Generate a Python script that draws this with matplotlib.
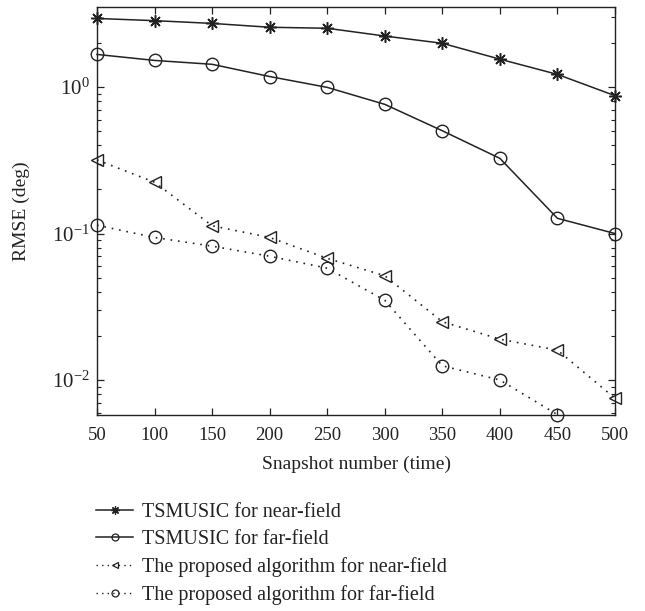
import matplotlib
matplotlib.use("Agg")
import matplotlib.pyplot as plt
from matplotlib.lines import Line2D
from matplotlib.ticker import LogLocator, NullFormatter, FixedLocator, FuncFormatter
import math

plt.rcParams['font.family'] = ['Liberation Serif', 'DejaVu Serif']
plt.rcParams['mathtext.fontset'] = 'custom'
plt.rcParams['mathtext.rm'] = 'Liberation Serif'
plt.rcParams['mathtext.it'] = 'Liberation Serif:italic'

snapshots = [50, 100, 150, 200, 250, 300, 350, 400, 450, 500]
tsmusic_near = [2.94, 2.84, 2.72, 2.56, 2.52, 2.23, 1.99, 1.55, 1.22, 0.873]
tsmusic_far = [1.67, 1.52, 1.43, 1.18, 0.995, 0.762, 0.503, 0.326, 0.127, 0.100]
proposed_near = [0.318, 0.224, 0.113, 0.094, 0.0677, 0.0515, 0.025, 0.019, 0.016, 0.0075]
proposed_far = [0.114, 0.094, 0.082, 0.070, 0.058, 0.035, 0.0125, 0.010, 0.0058, None]
labels = ["TSMUSIC for near-field", "TSMUSIC for far-field",
          "The proposed algorithm for near-field", "The proposed algorithm for far-field"]

fig = plt.figure(figsize=(6.45, 6.11), dpi=100)
ax = fig.add_axes([97/645, 1-415/611, (615-97)/645, (415-7)/611])

col = '#222222'
star = (8, 2, 0)
x_pf = [x for x, v in zip(snapshots, proposed_far) if v is not None]
y_pf = [v for v in proposed_far if v is not None]

ax.plot(snapshots, tsmusic_near, color=col, lw=1.1, marker=star, ms=9, mew=1.1, clip_on=False)
ax.plot(snapshots, tsmusic_far, color=col, lw=1.1, marker='o', ms=9, mfc='none', mew=1.0, clip_on=False)
ax.plot(snapshots, proposed_near, color=col, lw=1.2, ls=(0, (1, 3.5)), marker='<', ms=9,
        mfc='none', mew=1.0, clip_on=False)
ax.plot(x_pf, y_pf, color=col, lw=1.2, ls=(0, (1, 3.5)), marker='o', ms=9,
        mfc='none', mew=1.0, clip_on=False)

ax.set_yscale('log')
ax.set_xlim(50, 500)
ax.set_ylim(0.00577, 3.52)
ax.xaxis.set_major_locator(FixedLocator(snapshots))
ax.yaxis.set_major_locator(LogLocator(base=10, numticks=10))
ax.yaxis.set_minor_locator(LogLocator(base=10, subs=range(2, 10), numticks=10))
ax.yaxis.set_minor_formatter(NullFormatter())
ax.yaxis.set_major_formatter(FuncFormatter(
    lambda v, p: r'$10^{\mathregular{%d}}$' % round(math.log10(v))))
ax.tick_params(which='both', direction='in', top=True, right=True, colors=col,
               labelcolor='#222222')
ax.tick_params(axis='x', labelsize=13.5, pad=9)
ax.tick_params(axis='y', labelsize=15, pad=5)
ax.tick_params(which='major', length=5, width=0.9)
ax.tick_params(which='minor', length=3, width=0.8)
for s in ax.spines.values():
    s.set_color(col)
    s.set_linewidth(1.0)

ax.set_xlabel("Snapshot number (time)", fontsize=14, color='#222222', labelpad=8)
ax.set_ylabel("RMSE (deg)", fontsize=14, color='#222222', labelpad=16)

handles = [
    Line2D([], [], color=col, lw=1.1, marker=star, ms=6, mew=0.9),
    Line2D([], [], color=col, lw=1.1, marker='o', ms=5, mfc='none', mew=0.9),
    Line2D([], [], color=col, lw=1.0, ls=(0, (1, 3)), marker='<', ms=5, mfc='none', mew=0.9),
    Line2D([], [], color=col, lw=1.0, ls=(0, (1, 3)), marker='o', ms=5, mfc='none', mew=0.9),
]
fig.legend(handles, labels, loc='upper left', bbox_to_anchor=(96/645, 1-503/611),
           frameon=False, fontsize=14.5, handlelength=1.85, handletextpad=0.45,
           labelspacing=0.4, borderaxespad=0, borderpad=0.0, labelcolor='#222222')

fig.savefig("out.png", dpi=100)
